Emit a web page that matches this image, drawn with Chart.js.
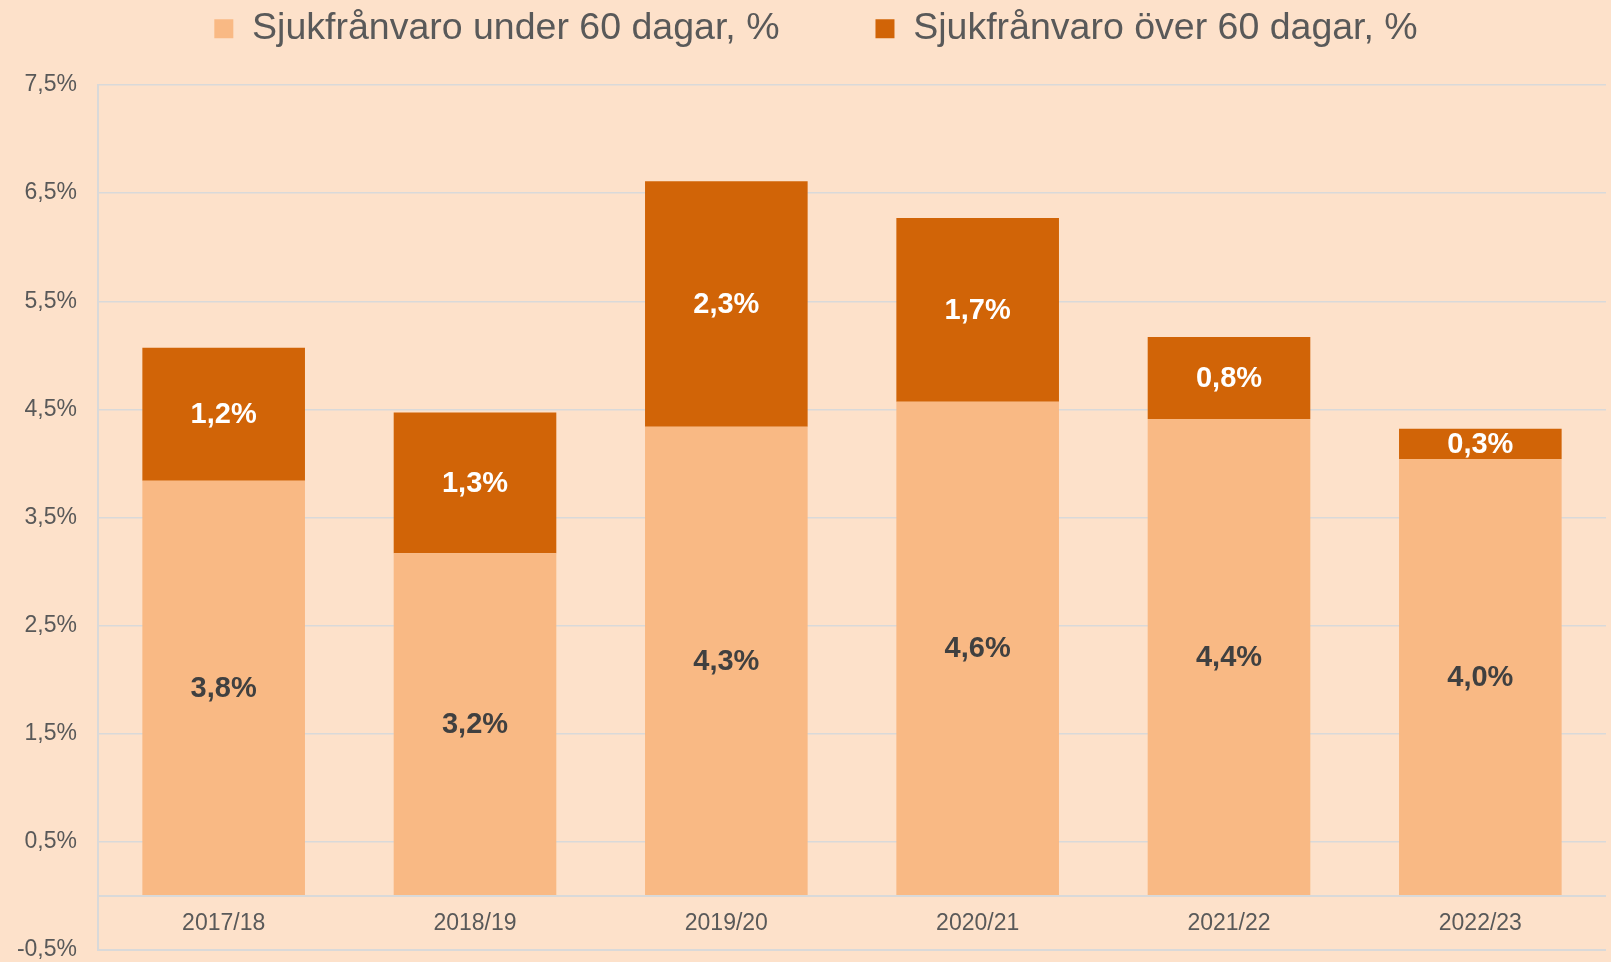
<!DOCTYPE html>
<html>
<head>
<meta charset="utf-8">
<script src="https://cdn.jsdelivr.net/npm/chart.js@4.4.1/dist/chart.umd.min.js"></script>
<style>
    html, body { margin: 0; padding: 0; background: #fde1ca; }
    #wrap { width: 1611px; height: 962px; position: relative; }
</style>
</head>
<body>
<div id="wrap"><canvas id="sickChart"></canvas></div>
<script>
// Data
const years = ['2017/18', '2018/19', '2019/20', '2020/21', '2021/22', '2022/23'];
const under60 = [3.84, 3.17, 4.34, 4.57, 4.41, 4.04];
const over60 = [1.23, 1.30, 2.27, 1.70, 0.76, 0.28];
const yTicks = [-0.5, 0, 0.5, 1.5, 2.5, 3.5, 4.5, 5.5, 6.5, 7.5];

const fmt = v => v.toFixed(1).replace('.', ',') + '%';
const FONT = "'Liberation Sans', Arial, sans-serif";

// draws the value inside each stacked segment
const segmentLabels = {
    id: 'segmentLabels',
    afterDatasetsDraw(chart) {
        const ctx = chart.ctx;
        ctx.save();
        ctx.font = `bold 29px ${FONT}`;
        ctx.textAlign = 'center';
        ctx.textBaseline = 'middle';
        chart.data.datasets.forEach((ds, di) => {
            const meta = chart.getDatasetMeta(di);
            meta.data.forEach((bar, i) => {
                const p = bar.getProps(['x', 'y', 'base'], true);
                ctx.fillStyle = di === 0 ? '#404040' : '#ffffff';
                ctx.fillText(fmt(ds.data[i]), p.x, (p.y + p.base) / 2 + 1);
            });
        });
        ctx.restore();
    }
};

// category names sit between the 0 line and the -0,5 line
const categoryNames = {
    id: 'categoryNames',
    afterDraw(chart) {
        const ctx = chart.ctx;
        const xs = chart.scales.x, ys = chart.scales.y;
        ctx.save();
        ctx.font = `23px ${FONT}`;
        ctx.fillStyle = '#595959';
        ctx.textAlign = 'center';
        ctx.textBaseline = 'middle';
        const yPos = ys.getPixelForValue(-0.25) + 1;
        years.forEach((y, i) => ctx.fillText(y, xs.getPixelForValue(i), yPos));
        ctx.restore();
    }
};

// the wide label padding also pads the legend vertically, so fix its height;
// the legend also sits a little right of centre in the original
const legendTweak = {
    id: 'legendTweak',
    afterInit(chart) {
        const legend = chart.legend;
        const fit = legend.fit;
        const draw = legend.draw;
        legend.fit = function () {
            fit.call(this);
            this.height = 171;
        };
        legend.draw = function (area) {
            this.ctx.save();
            this.ctx.translate(13, 0);
            draw.call(this, area);
            this.ctx.restore();
        };
    }
};

const ctx = document.getElementById('sickChart').getContext('2d');

new Chart(ctx, {
    type: 'bar',
    data: {
        labels: years,
        datasets: [{
            label: 'Sjukfrånvaro under 60 dagar, %',
            data: under60,
            backgroundColor: '#f9b984',
            barPercentage: 0.647,
            categoryPercentage: 1
        }, {
            label: 'Sjukfrånvaro över 60 dagar, %',
            data: over60,
            backgroundColor: '#d16407',
            barPercentage: 0.647,
            categoryPercentage: 1
        }]
    },
    options: {
        responsive: true,
        maintainAspectRatio: false,
        animation: false,
        layout: { padding: { left: 0, right: 5, top: -86, bottom: 0 } },
        plugins: {
            tooltip: { enabled: false },
            legend: {
                position: 'top',
                labels: {
                    color: '#595959',
                    font: { family: FONT, size: 37.5 },
                    boxWidth: 19,
                    boxHeight: 19,
                    padding: 96
                }
            }
        },
        scales: {
            x: {
                display: false,
                stacked: true
            },
            y: {
                stacked: true,
                min: -0.5,
                max: 7.5,
                afterBuildTicks: scale => { scale.ticks = yTicks.map(v => ({ value: v })); },
                afterFit: scale => {
                    scale.width = 98;
                    scale.paddingBottom = 12;
                },
                border: { display: true, color: '#d9d9d9', width: 2 },
                grid: {
                    color: '#d9d9d9',
                    lineWidth: c => (c.tick && c.tick.value <= 0 ? 2 : 1.5),
                    drawTicks: false
                },
                ticks: {
                    autoSkip: false,
                    padding: 21,
                    color: '#595959',
                    font: { family: FONT, size: 23 },
                    callback: v => (v === 0 ? '' : fmt(v))
                }
            }
        }
    },
    plugins: [segmentLabels, categoryNames, legendTweak]
});
</script>
</body>
</html>
